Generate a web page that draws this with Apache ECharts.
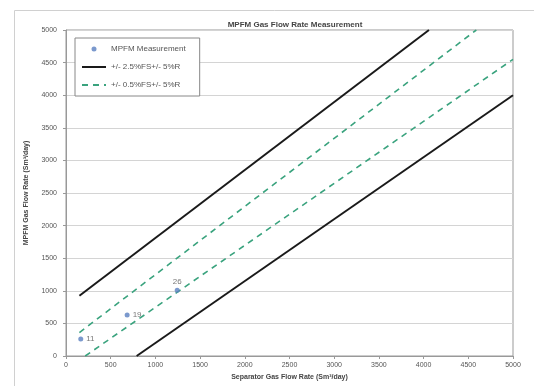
<!DOCTYPE html>
<html>
<head>
<meta charset="utf-8">
<script src="https://cdn.jsdelivr.net/npm/echarts@6/dist/echarts.min.js"></script>
<style>
	html,body{margin:0;padding:0;background:#fff;}
	#main{width:534px;height:386px;}
</style>
</head>
<body>
<div id="main"></div>
<script>
	// measured points (separator rate, MPFM rate) and their test numbers
	var pointNames = ['11', '19', '26'];
	var pointX = [165, 684, 1244];
	var pointY = [259, 630, 1010];

	// limit lines, end points
	var outerUpper = [[150, 925], [4060, 5000]];
	var outerLower = [[790, 0], [5000, 4000]];
	var innerUpper = [[150, 360], [4590, 5000]];
	var innerLower = [[215, 0], [5000, 4550]];

	var points = [];
	for (var i = 0; i < pointNames.length; i++) {
		points.push({name: pointNames[i], value: [pointX[i], pointY[i]]});
	}

	var txt = '#555';
	var font = 'Liberation Sans';
	var chart = echarts.init(document.getElementById('main'));
	var option = {
		animation: false,
		title: {
			text: 'MPFM Gas Flow Rate Measurement',
			left: 290, top: 16, textAlign: 'center',
			textStyle: {fontSize: 8, fontWeight: 'bold', color: '#444', fontFamily: font}
		},
		graphic: [{
			type: 'rect', shape: {x: 14.5, y: 10.5, width: 530, height: 390},
			style: {fill: 'none', stroke: '#d0d0d0', lineWidth: 1}, z: -1
		}],
		legend: {
			orient: 'vertical', left: 75, top: 38,
			backgroundColor: '#fff', borderColor: '#888', borderWidth: 1,
			padding: [7, 14, 7, 6], itemGap: 10, itemWidth: 24, itemHeight: 5,
			textStyle: {fontSize: 8, color: txt, fontFamily: font},
			data: [
				{name: 'MPFM Measurement', icon: 'circle'},
				{name: '+/- 2.5%FS+/- 5%R', itemStyle: {opacity: 0}},
				{name: '+/- 0.5%FS+/- 5%R', itemStyle: {opacity: 0}}
			]
		},
		grid: {left: 66, right: 21, top: 30, bottom: 28, show: true, borderColor: '#999', borderWidth: 1},
		xAxis: {
			type: 'value', min: 0, max: 5000, interval: 500,
			name: 'Separator Gas Flow Rate (Sm\u00b3/day)', nameLocation: 'middle', nameGap: 18,
			nameTextStyle: {fontSize: 7, fontWeight: 'bold', color: '#444', fontFamily: font},
			axisLine: {lineStyle: {color: '#999'}},
			axisTick: {show: true, length: 3, lineStyle: {color: '#999'}},
			axisLabel: {fontSize: 7, color: txt, margin: 6, fontFamily: font,
				formatter: function (v) { return String(v); }},
			splitLine: {show: false}
		},
		yAxis: {
			type: 'value', min: 0, max: 5000, interval: 500,
			name: 'MPFM Gas Flow Rate (Sm\u00b3/day)', nameLocation: 'middle', nameGap: 36,
			nameTextStyle: {fontSize: 7, fontWeight: 'bold', color: '#444', fontFamily: font},
			axisLine: {show: true, lineStyle: {color: '#999'}},
			axisTick: {show: true, length: 3, lineStyle: {color: '#999'}},
			axisLabel: {fontSize: 7, color: txt, margin: 9, fontFamily: font,
				formatter: function (v) { return String(v); }},
			splitLine: {show: true, lineStyle: {color: '#d4d4d4', width: 1}}
		},
		series: [{
			name: 'MPFM Measurement', type: 'scatter', symbol: 'circle', symbolSize: 5,
			itemStyle: {color: '#5a7fc0'},
			label: {
				show: true, position: 'right', distance: 3, formatter: '{b}',
				fontSize: 8, color: '#555', fontFamily: font
			},
			data: points.map(function (p) {
				if (p.name === '26') return {name: p.name, value: p.value, label: {position: 'top', distance: 2}};
				return p;
			}),
			z: 5
		}, {
			name: '+/- 2.5%FS+/- 5%R', type: 'line', symbol: 'none',
			lineStyle: {color: '#1a1a1a', width: 2}, itemStyle: {color: '#1a1a1a'},
			data: outerUpper
		}, {
			name: '+/- 2.5%FS+/- 5%R', type: 'line', symbol: 'none',
			lineStyle: {color: '#1a1a1a', width: 2}, itemStyle: {color: '#1a1a1a'},
			data: outerLower
		}, {
			name: '+/- 0.5%FS+/- 5%R', type: 'line', symbol: 'none',
			lineStyle: {color: '#3aa37e', width: 1.6, type: [6, 5]}, itemStyle: {color: '#3aa37e'},
			data: innerUpper
		}, {
			name: '+/- 0.5%FS+/- 5%R', type: 'line', symbol: 'none',
			lineStyle: {color: '#3aa37e', width: 1.6, type: [6, 5]}, itemStyle: {color: '#3aa37e'},
			data: innerLower
		}]
	};
	chart.setOption(option);
</script>
</body>
</html>
